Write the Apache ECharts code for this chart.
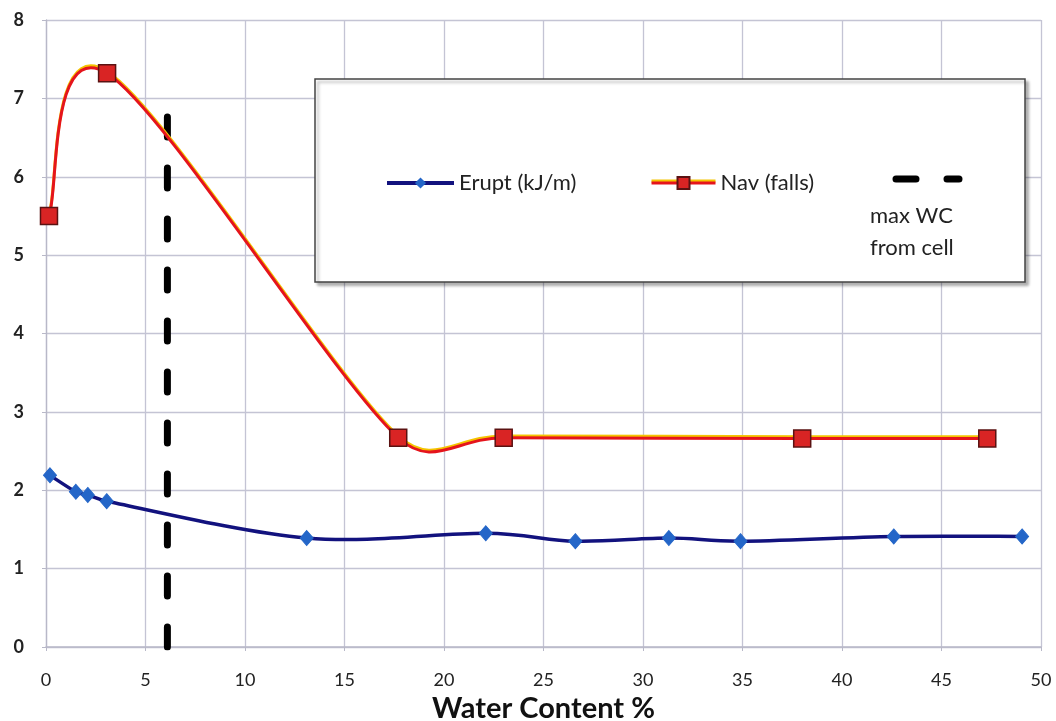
<!DOCTYPE html>
<html>
<head>
<meta charset="utf-8">
<script src="https://cdn.jsdelivr.net/npm/echarts@6/dist/echarts.min.js"></script>
<style>html,body{margin:0;padding:0;background:#fff;}#c{width:1056px;height:721px;}</style>
</head>
<body>
<div id="c"></div>
<script>
const xTicks = [0, 5, 10, 15, 20, 25, 30, 35, 40, 45, 50];
const yTicks = [0, 1, 2, 3, 4, 5, 6, 7, 8];
const eruptX = [0.2, 1.5, 2.1, 3.05, 13.1, 22.1, 26.6, 31.3, 34.9, 42.6, 49.05];
const eruptY = [2.19, 1.98, 1.94, 1.86, 1.39, 1.45, 1.35, 1.39, 1.35, 1.41, 1.41];
const navX = [0.15, 3.07, 17.7, 23.0, 38.0, 47.3];
const navY = [5.5, 7.32, 2.67, 2.67, 2.66, 2.66];
const maxWcX = [6.1, 6.1];
const maxWcY = [0, 6.85];
const names = ['Erupt (kJ/m)', 'Nav (falls)', 'max WC from cell'];

const pairs = (xs, ys) => xs.map((x, i) => [x, ys[i]]);
const font = 'Lato, "Open Sans", sans-serif';

// Excel-like smoothed curve: Catmull-Rom tangents, converted to pixels by the axes
function smoothSegments(api, xs, ys) {
  const p = xs.map((x, i) => api.coord([x, ys[i]]));
  const segs = [];
  const cap = (v, maxLen) => {
    const l = Math.hypot(v[0], v[1]);
    if (l > maxLen && l > 0) return [v[0] * maxLen / l, v[1] * maxLen / l];
    return v;
  };
  for (let i = 0; i < p.length - 1; i++) {
    const p0 = p[i - 1] || p[i], p1 = p[i], p2 = p[i + 1], p3 = p[i + 2] || p[i + 1];
    const segLen = Math.hypot(p2[0] - p1[0], p2[1] - p1[1]);
    const t1 = cap([(p2[0] - p0[0]) / 6, (p2[1] - p0[1]) / 6], 0.45 * segLen);
    const t2 = cap([(p3[0] - p1[0]) / 6, (p3[1] - p1[1]) / 6], 0.45 * segLen);
    segs.push({ x1: p1[0], y1: p1[1], cpx1: p1[0] + t1[0], cpy1: p1[1] + t1[1],
      cpx2: p2[0] - t2[0], cpy2: p2[1] - t2[1], x2: p2[0], y2: p2[1] });
  }
  return segs;
}

function curveSeries(xs, ys, layers) {
  return {
    type: 'custom', coordinateSystem: 'cartesian2d', silent: true, z: 3,
    data: pairs(xs, ys),
    renderItem: (params, api) => {
      if (params.dataIndex !== 0) return null;
      const segs = smoothSegments(api, xs, ys);
      const children = [];
      layers.forEach(ly => {
        segs.forEach(s => {
          children.push({
            type: 'bezierCurve', shape: s, y: ly.dy || 0,
            style: { stroke: ly.color, lineWidth: ly.width, fill: null, lineCap: 'round', lineJoin: 'round' }
          });
        });
      });
      return { type: 'group', children };
    }
  };
}

const legendText = { fontFamily: font, fontSize: 22, color: '#222' };

const chart = echarts.init(document.getElementById('c'));
chart.setOption({
  animation: false,
  backgroundColor: '#fff',
  grid: { left: 46, right: 15, top: 20, bottom: 74, outerBoundsMode: 'none', containLabel: false },
  xAxis: {
    type: 'value', min: 0, max: 50, interval: 5,
    name: 'Water Content %', nameLocation: 'middle', nameGap: 47,
    nameTextStyle: { fontFamily: font, fontWeight: 'bold', fontSize: 29, color: '#111' },
    axisLine: { show: true, lineStyle: { color: '#b8b8c8', width: 1.5 } },
    axisTick: { show: true, length: 4, lineStyle: { color: '#b8b8c8' } },
    axisLabel: { fontFamily: font, fontSize: 18, color: '#222', margin: 24,
      formatter: v => xTicks.includes(v) ? String(v) : '' },
    splitLine: { show: true, lineStyle: { color: '#c4c4d4', width: 1.3 } }
  },
  yAxis: {
    type: 'value', min: 0, max: 8, interval: 1,
    axisLine: { show: true, lineStyle: { color: '#b8b8c8', width: 1.3 } },
    axisTick: { show: true, length: 4, lineStyle: { color: '#b8b8c8' } },
    axisLabel: { fontFamily: font, fontSize: 18, fontWeight: 'bold', color: '#222', margin: 22,
      formatter: v => yTicks.includes(v) ? String(v) : '' },
    splitLine: { show: true, lineStyle: { color: '#c4c4d4', width: 1.3 } }
  },
  graphic: [
    { type: 'rect', z: 1, shape: { x: 315, y: 79, width: 710, height: 203 },
      style: { fill: '#fff', stroke: '#444', lineWidth: 1.5,
        shadowColor: 'rgba(0,0,0,0.3)', shadowBlur: 3, shadowOffsetX: 3, shadowOffsetY: 3 } },
    { type: 'text', z: 5, left: 870, top: 200,
      style: { text: 'max WC\nfrom cell', fontFamily: font, fontSize: 22, lineHeight: 32, fill: '#222' } }
  ],
  legend: [
    { data: [names[0]], left: 385, top: 172, itemWidth: 67, itemHeight: 14, itemGap: 0, z: 6,
      padding: 0, textStyle: legendText,
      lineStyle: { color: '#12127e', width: 4, opacity: 1 } },
    { data: [names[1]], left: 650, top: 172, itemWidth: 64, itemHeight: 15, itemGap: 0, z: 6,
      padding: 0, textStyle: legendText,
      lineStyle: { color: '#e5141c', width: 3, opacity: 1, shadowColor: '#f4c400', shadowBlur: 0, shadowOffsetY: -2 } },
    { data: [names[2]], left: 889, top: 172, itemWidth: 63, itemHeight: 14, itemGap: 0, z: 6,
      padding: [0, 0, 0, 3.5], formatter: () => '', textStyle: { fontSize: 1 },
      itemStyle: { opacity: 0 },
      lineStyle: { color: '#000', width: 7, type: [20, 31], cap: 'round', opacity: 1 } }
  ],
  series: [
    {
      name: names[2], type: 'line', data: pairs(maxWcX, maxWcY), symbol: 'none', z: 2,
      lineStyle: { color: '#000', width: 7, type: [20, 31], cap: 'round' }
    },
    curveSeries(eruptX, eruptY, [{ color: '#12127e', width: 3.5 }]),
    curveSeries(navX, navY, [{ color: '#f4c400', width: 3, dy: -1.8 }, { color: '#e5141c', width: 3 }]),
    {
      name: names[0], type: 'line', data: pairs(eruptX, eruptY), z: 4,
      symbol: 'diamond', symbolSize: [13, 15],
      itemStyle: { color: '#2466c8', borderColor: '#2466c8' },
      lineStyle: { color: '#12127e', width: 0, opacity: 0 }
    },
    {
      name: names[1], type: 'line', data: pairs(navX, navY), z: 4,
      symbol: 'rect', symbolSize: 17,
      itemStyle: { color: '#d92424', borderColor: '#5a1212', borderWidth: 1.5 },
      lineStyle: { color: '#e5141c', width: 0, opacity: 0 }
    }
  ]
});
</script>
</body>
</html>
